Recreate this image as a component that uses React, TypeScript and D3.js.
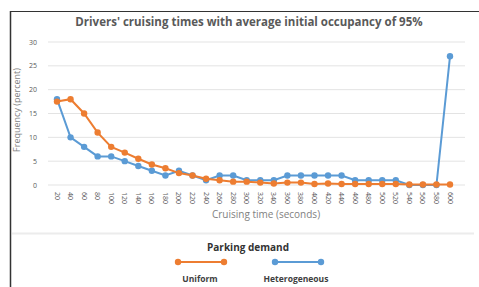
import React, { useEffect, useRef } from "react";
import * as d3 from "d3";

const categories = [20, 40, 60, 80, 100, 120, 140, 160, 180, 200, 220, 240, 260, 280, 300,
  320, 340, 360, 380, 400, 420, 440, 460, 480, 500, 520, 540, 560, 580, 600];
const uniform = [17.5, 18, 15, 11, 8, 6.8, 5.5, 4.3, 3.5, 2.5, 2, 1.3, 1, 0.7, 0.7,
  0.5, 0.3, 0.5, 0.5, 0.2, 0.3, 0.2, 0.2, 0.2, 0.2, 0.2, 0.1, 0.1, 0.1, 0.1];
const heterogeneous = [18, 10, 8, 6, 6, 5, 4, 3, 2, 3, 2, 1, 2, 2, 1,
  1, 1, 2, 2, 2, 2, 2, 1, 1, 1, 1, 0, 0, 0, 27];
const yTicks = [0, 5, 10, 15, 20, 25, 30];
const seriesNames = ["Uniform", "Heterogeneous"];
const seriesColors = ["#ED7D31", "#5B9BD5"];

export default function App() {
  const ref = useRef<SVGSVGElement>(null);

  useEffect(() => {
    const svg = d3.select(ref.current);
    svg.selectAll("*").remove();
    const font = "'Open Sans', sans-serif";
    const grey = "#595959";

    // frame
    svg.append("line").attr("x1", 10.5).attr("x2", 10.5).attr("y1", 11).attr("y2", 287)
      .attr("stroke", "#333").attr("stroke-width", 1.5);
    svg.append("line").attr("x1", 10).attr("x2", 479).attr("y1", 11.5).attr("y2", 11.5)
      .attr("stroke", "#333").attr("stroke-width", 1.2);
    svg.append("line").attr("x1", 12).attr("x2", 474).attr("y1", 233.5).attr("y2", 233.5)
      .attr("stroke", "#ececec").attr("stroke-width", 2);

    svg.append("text").attr("x", 249).attr("y", 26).attr("text-anchor", "middle")
      .attr("font-family", font).attr("font-size", 11.5).attr("font-weight", 700)
      .attr("fill", grey).text("Drivers' cruising times with average initial occupancy of 95%");

    const x = d3.scalePoint<number>().domain(categories).range([57, 450]);
    const y = d3.scaleLinear().domain([0, 30]).range([185, 42]);

    const g = svg.append("g");
    g.selectAll("line.grid").data(yTicks).enter().append("line")
      .attr("x1", 48).attr("x2", 465)
      .attr("y1", d => y(d)).attr("y2", d => y(d))
      .attr("stroke", "#e3e3e3").attr("stroke-width", 1);

    g.selectAll("text.ytick").data(yTicks).enter().append("text")
      .attr("x", 37).attr("y", d => y(d) + 2.5).attr("text-anchor", "end")
      .attr("font-family", font).attr("font-size", 7).attr("fill", grey)
      .text(d => d);

    g.selectAll("text.xtick").data(categories).enter().append("text")
      .attr("transform", d => `translate(${x(d)! - 2.5},192) rotate(90)`)
      .attr("text-anchor", "start")
      .attr("font-family", font).attr("font-size", 7).attr("fill", grey)
      .text(d => d);

    svg.append("text").attr("x", 266).attr("y", 218).attr("text-anchor", "middle")
      .attr("font-family", font).attr("font-size", 10).attr("fill", "#7f7f7f")
      .text("Cruising time (seconds)");
    svg.append("text").attr("transform", "translate(20,110) rotate(-90)").attr("text-anchor", "middle")
      .attr("font-family", font).attr("font-size", 9).attr("fill", "#7f7f7f")
      .text("Frequency (percent)");

    const line = d3.line<number>().x((_, i) => x(categories[i])!).y(d => y(d));
    // heterogeneous first so uniform sits on top
    [1, 0].forEach(si => {
      const vals = si === 0 ? uniform : heterogeneous;
      g.append("path").attr("d", line(vals)).attr("fill", "none")
        .attr("stroke", seriesColors[si]).attr("stroke-width", 2);
      g.selectAll(`circle.s${si}`).data(vals).enter().append("circle")
        .attr("cx", (_, i) => x(categories[i])!).attr("cy", d => y(d))
        .attr("r", 3.2).attr("fill", seriesColors[si]);
    });

    // legend
    svg.append("text").attr("x", 248).attr("y", 251).attr("text-anchor", "middle")
      .attr("font-family", font).attr("font-size", 10).attr("font-weight", 700)
      .attr("fill", "#333").text("Parking demand");
    const legX = [[178, 224], [275, 321]];
    seriesNames.forEach((name, i) => {
      const [a, b] = legX[i];
      svg.append("line").attr("x1", a).attr("x2", b).attr("y1", 262).attr("y2", 262)
        .attr("stroke", seriesColors[i]).attr("stroke-width", 2);
      [a, b].forEach(cx => svg.append("circle").attr("cx", cx).attr("cy", 262).attr("r", 3.2)
        .attr("fill", seriesColors[i]));
      svg.append("text").attr("x", i === 0 ? 200 : 296).attr("y", 282).attr("text-anchor", "middle")
        .attr("font-family", font).attr("font-size", 8.5).attr("font-weight", 700)
        .attr("fill", "#404040").text(name);
    });
  }, []);

  return (
    <svg ref={ref} width={479} height={287}
      style={{ position: "absolute", left: 0, top: 0, background: "#fff" }} />
  );
}
